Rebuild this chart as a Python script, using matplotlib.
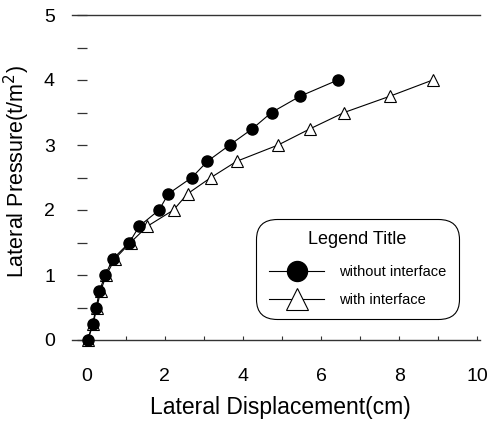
import numpy as np
import matplotlib
matplotlib.use('Agg')
import matplotlib.pyplot as plt
from matplotlib.ticker import MultipleLocator

plt.rcParams['font.family'] = ['Liberation Sans', 'DejaVu Sans']

# lateral pressure levels (t/m2) and displacements (cm)
pressure = [0, 0.25, 0.5, 0.75, 1.0, 1.25, 1.5, 1.75, 2.0, 2.25, 2.5, 2.75, 3.0, 3.25, 3.5, 3.75, 4.0]
disp_without = [0.02, 0.15, 0.24, 0.32, 0.47, 0.67, 1.09, 1.34, 1.85, 2.09, 2.69, 3.09, 3.66, 4.24, 4.73, 5.46, 6.43]
disp_with = [0.03, 0.16, 0.26, 0.35, 0.50, 0.72, 1.12, 1.55, 2.22, 2.58, 3.18, 3.84, 4.90, 5.72, 6.59, 7.76, 8.86]

x_ticks = [0, 2, 4, 6, 8, 10]
y_ticks = [0, 1, 2, 3, 4, 5]

fig = plt.figure(figsize=(4.91, 4.26), dpi=100)
ax = fig.add_axes([72 / 491, 86 / 426, 408 / 491, 325 / 426])

ax.plot(disp_without, pressure, color='black', lw=0.8, marker='o', ms=8,
        mfc='black', mec='black', label='without interface', clip_on=False, zorder=3)
ax.plot(disp_with, pressure, color='black', lw=0.8, marker='^', ms=8.5,
        mfc='white', mec='black', mew=0.8, label='with interface', clip_on=False, zorder=2)

ax.set_xlim(-0.38, 10.07)
ax.set_ylim(0, 5)

ax.spines['right'].set_visible(False)
ax.spines['left'].set_visible(False)
ax.spines['left'].set_position(('data', 0))
for s in ['top', 'bottom']:
    ax.spines[s].set_color('#333333')
    ax.spines[s].set_linewidth(1.0)

ax.set_xticks(x_ticks)
ax.set_yticks(y_ticks)
ax.xaxis.set_minor_locator(MultipleLocator(1))
ax.yaxis.set_minor_locator(MultipleLocator(0.5))
ax.tick_params(axis='x', which='both', direction='in', length=3, width=0.8,
               colors='#333333', labelcolor='black', labelsize=14, pad=20)
ax.tick_params(axis='y', which='both', direction='out', length=7, width=0.9,
               colors='#333333', labelcolor='black', labelsize=14, pad=16)
ax.tick_params(axis='x', which='both', top=False)

ax.set_xlabel('Lateral Displacement(cm)', fontsize=16.5)
ax.set_ylabel('Lateral Pressure(t/m$^2$)', fontsize=15.5)
ax.xaxis.set_label_coords(0.51, -0.172)
ax.yaxis.set_label_coords(-0.098, 0.518)

leg = ax.legend(title='Legend Title', loc='center',
                bbox_to_anchor=(357.5 / 491, 1 - 269 / 426), bbox_transform=fig.transFigure,
                fontsize=10.5, title_fontsize=13, markerscale=1.8, handlelength=3.8,
                handletextpad=1.0, labelspacing=0.95, borderpad=0.85,
                fancybox=True, framealpha=1, edgecolor='black')
leg.get_frame().set_boxstyle('round,pad=0,rounding_size=1.4')
leg.get_frame().set_linewidth(0.8)
leg._legend_box.sep = 12

fig.savefig('out.png', dpi=100)
